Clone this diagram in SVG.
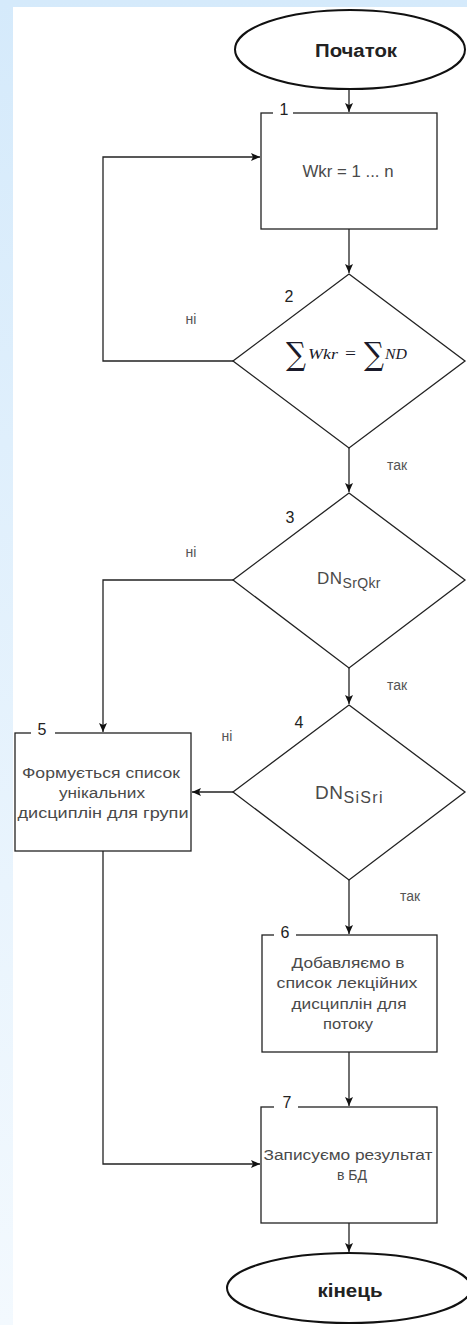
<svg xmlns="http://www.w3.org/2000/svg" width="467" height="1325" viewBox="0 0 467 1325">
<defs>
<linearGradient id="bg" x1="0" y1="0" x2="0" y2="1">
<stop offset="0" stop-color="#d5eafb"/>
<stop offset="1" stop-color="#f3f9fe"/>
</linearGradient>
<marker id="arr" markerWidth="10" markerHeight="10" refX="9" refY="5" orient="auto" markerUnits="userSpaceOnUse">
<path d="M0,1 L9,5 L0,9 L2,5 Z" fill="#111"/>
</marker>
<style>
.shape{fill:#fff;stroke:#222;stroke-width:1.3}
.term{fill:#fff;stroke:#111;stroke-width:2}
.conn{fill:none;stroke:#222;stroke-width:1.3;marker-end:url(#arr)}
.t{font-family:"Liberation Sans",Arial,sans-serif;font-size:14px;fill:#4a4a4a;text-anchor:middle}
.w{font-family:"Liberation Sans",Arial,sans-serif;fill:#4a4a4a;text-anchor:middle}
.tb{font-family:"Liberation Sans",Arial,sans-serif;font-size:18px;font-weight:bold;fill:#222;text-anchor:middle}
.num{font-family:"Liberation Sans",Arial,sans-serif;font-size:16px;fill:#222;text-anchor:middle}
.lbl{font-family:"Liberation Sans",Arial,sans-serif;font-size:14px;fill:#555;text-anchor:middle}
.m{font-family:"Liberation Serif","DejaVu Serif",serif;font-style:italic;font-size:15px;fill:#1a1a2a}
.sig{font-family:"DejaVu Serif","Liberation Serif",serif;font-size:32px;fill:#1a1a2a}
</style>
</defs>
<rect x="0" y="0" width="467" height="1325" fill="url(#bg)"/>
<rect x="13" y="7" width="454" height="1318" fill="#fff"/>

<g id="connectors">
<line class="conn" x1="349" y1="89" x2="349" y2="112"/>
<line class="conn" x1="349" y1="229" x2="349" y2="273"/>
<path class="conn" d="M233,361 H103 V157 H260"/>
<line class="conn" x1="349" y1="448" x2="349" y2="492"/>
<path class="conn" d="M233,580 H103 V732"/>
<line class="conn" x1="349" y1="668" x2="349" y2="704"/>
<line class="conn" x1="233" y1="792" x2="192" y2="792"/>
<line class="conn" x1="349" y1="880" x2="349" y2="934"/>
<line class="conn" x1="349" y1="1052" x2="349" y2="1106"/>
<path class="conn" d="M103,851 V1164 H260"/>
<line class="conn" x1="349" y1="1223" x2="349" y2="1252"/>
<text class="lbl" x="191" y="324">ні</text>
<text class="lbl" x="397" y="470">так</text>
<text class="lbl" x="191" y="557">ні</text>
<text class="lbl" x="397" y="690">так</text>
<text class="lbl" x="227" y="741">ні</text>
<text class="lbl" x="410" y="901">так</text>
</g>

<g id="start">
<ellipse class="term" cx="350" cy="49.5" rx="115" ry="39.5"/>
<text class="tb" x="356" y="57" textLength="82" lengthAdjust="spacingAndGlyphs">Початок</text>
</g>

<g id="n1">
<rect class="shape" x="261" y="113" width="176" height="116"/>
<rect x="273" y="110" width="20" height="6" fill="#fff"/>
<text class="num" x="284" y="115">1</text>
<text class="w" x="348" y="177" style="font-size:17px" textLength="91" lengthAdjust="spacingAndGlyphs">Wkr = 1 ... n</text>
</g>

<g id="n2">
<polygon class="shape" points="349,274 465,361 349,448 233,361"/>
<text class="num" x="289" y="302">2</text>
<text class="sig" x="286" y="365" textLength="20" lengthAdjust="spacingAndGlyphs">∑</text>
<text class="m" x="308" y="359" textLength="30" lengthAdjust="spacingAndGlyphs">Wkr</text>
<text class="m" x="345" y="359" style="font-style:normal;font-size:16px" textLength="11" lengthAdjust="spacingAndGlyphs">=</text>
<text class="sig" x="364" y="365" textLength="20" lengthAdjust="spacingAndGlyphs">∑</text>
<text class="m" x="385" y="359" textLength="22" lengthAdjust="spacingAndGlyphs">ND</text>
</g>

<g id="n3">
<polygon class="shape" points="349,493 465,580 349,668 233,580"/>
<text class="num" x="290" y="523">3</text>
<text class="w" x="317" y="584" style="font-size:17px;text-anchor:start"><tspan textLength="25">DN</tspan><tspan style="font-size:14px" dy="4" textLength="38">SrQkr</tspan></text>
</g>

<g id="n4">
<polygon class="shape" points="349,705 465,792 349,880 233,792"/>
<text class="num" x="299" y="728">4</text>
<text class="w" x="315" y="799" style="font-size:19px;text-anchor:start"><tspan textLength="28">DN</tspan><tspan style="font-size:16px" dy="4" textLength="39">SiSri</tspan></text>
</g>

<g id="n5">
<rect class="shape" x="15" y="733" width="176" height="118"/>
<rect x="31" y="730" width="24" height="6" fill="#fff"/>
<text class="num" x="42" y="735">5</text>
<text class="t" x="101" y="778" textLength="158" lengthAdjust="spacingAndGlyphs">Формується список</text>
<text class="t" x="102" y="798" textLength="86" lengthAdjust="spacingAndGlyphs">унікальних</text>
<text class="t" x="103" y="818" textLength="171" lengthAdjust="spacingAndGlyphs">дисциплін для групи</text>
</g>

<g id="n6">
<rect class="shape" x="262" y="935" width="175" height="117"/>
<rect x="274" y="932" width="22" height="6" fill="#fff"/>
<text class="num" x="285" y="938">6</text>
<text class="t" x="348" y="968" textLength="113" lengthAdjust="spacingAndGlyphs">Добавляємо в</text>
<text class="t" x="347" y="988" textLength="141" lengthAdjust="spacingAndGlyphs">список лекційних</text>
<text class="t" x="349" y="1009" textLength="115" lengthAdjust="spacingAndGlyphs">дисциплін для</text>
<text class="t" x="348" y="1029" textLength="50" lengthAdjust="spacingAndGlyphs">потоку</text>
</g>

<g id="n7">
<rect class="shape" x="261" y="1107" width="176" height="116"/>
<rect x="274" y="1104" width="24" height="6" fill="#fff"/>
<text class="num" x="287" y="1108">7</text>
<text class="t" x="348" y="1160" textLength="169" lengthAdjust="spacingAndGlyphs">Записуємо результат</text>
<text class="t" x="352" y="1180">в БД</text>
</g>

<g id="end">
<ellipse class="term" cx="349" cy="1288" rx="122" ry="35"/>
<text class="tb" x="350" y="1297" textLength="65" lengthAdjust="spacingAndGlyphs">кінець</text>
</g>
</svg>
